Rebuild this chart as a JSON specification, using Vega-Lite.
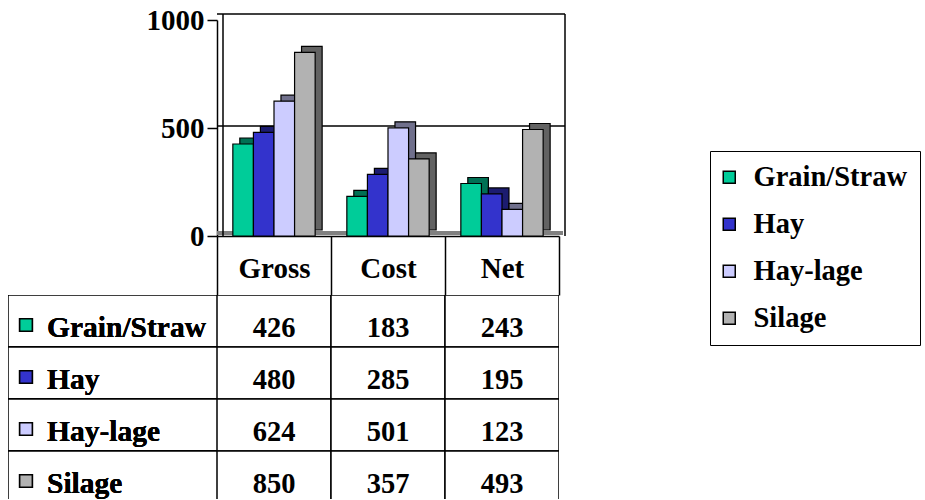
{
  "$schema": "https://vega.github.io/schema/vega-lite/v6.json",
  "padding": {"left": 8, "top": 6, "right": 0, "bottom": 0},
  "autosize": {"type": "pad"},
  "background": "white",
  "config": {
    "view": {"stroke": null},
    "font": "Liberation Serif",
    "text": {"font": "Liberation Serif", "fontWeight": "bold", "fontSize": 28, "color": "black"}
  },
  "data": {
    "values": [
      {"series": "Grain/Straw", "metric": "Gross", "value": 426},
      {"series": "Grain/Straw", "metric": "Cost", "value": 183},
      {"series": "Grain/Straw", "metric": "Net", "value": 243},
      {"series": "Hay", "metric": "Gross", "value": 480},
      {"series": "Hay", "metric": "Cost", "value": 285},
      {"series": "Hay", "metric": "Net", "value": 195},
      {"series": "Hay-lage", "metric": "Gross", "value": 624},
      {"series": "Hay-lage", "metric": "Cost", "value": 501},
      {"series": "Hay-lage", "metric": "Net", "value": 123},
      {"series": "Silage", "metric": "Gross", "value": 850},
      {"series": "Silage", "metric": "Cost", "value": 357},
      {"series": "Silage", "metric": "Net", "value": 493}
    ]
  },
  "columns": 2,
  "spacing": {"row": 59, "column": 0},
  "bounds": "flush",
  "align": "each",
  "resolve": {"scale": {"color": "independent"}, "legend": {"color": "independent"}},
  "concat": [
    {
      "width": 209,
      "height": 216,
      "mark": {"type": "text"},
      "encoding": {"text": {"value": ""}}
    },
    {
      "width": 342,
      "height": 216,
      "resolve": {"scale": {"xOffset": "independent"}},
      "layer": [
        {
          "transform": [{"filter": "datum.metric == 'Gross' && datum.series == 'Hay'"}],
          "mark": {"type": "rule", "color": "#808080", "strokeWidth": 4, "yOffset": -3, "xOffset": 4},
          "encoding": {"y": {"datum": 0, "type": "quantitative", "scale": {"domain": [0, 1000], "nice": false}}}
        },
        {
          "transform": [{"filter": "datum.metric == 'Gross' && datum.series == 'Hay'"}],
          "mark": {"type": "rule", "color": "black", "strokeWidth": 1.5, "yOffset": -2, "xOffset": 6},
          "encoding": {"y": {"datum": 500, "type": "quantitative"}}
        },
        {
          "transform": [{"filter": "datum.metric == 'Gross' && datum.series == 'Hay'"}],
          "mark": {"type": "rule", "color": "black", "strokeWidth": 1.5, "yOffset": -6, "xOffset": 6},
          "encoding": {"y": {"datum": 1000, "type": "quantitative"}}
        },
        {
          "transform": [{"filter": "datum.metric == 'Gross' && datum.series == 'Hay'"}],
          "mark": {"type": "rule", "color": "black", "strokeWidth": 1.5, "yOffset": -6, "y2Offset": -6, "xOffset": 6},
          "encoding": {
            "x": {"field": "metric", "type": "nominal", "sort": ["Gross", "Cost", "Net"], "bandPosition": 0}
          }
        },
        {
          "transform": [{"filter": "datum.metric == 'Net' && datum.series == 'Hay'"}],
          "mark": {"type": "rule", "color": "black", "strokeWidth": 1.5, "yOffset": -6, "y2Offset": -6, "xOffset": 6},
          "encoding": {
            "x": {"field": "metric", "type": "nominal", "sort": ["Gross", "Cost", "Net"], "bandPosition": 1}
          }
        },
        {
          "mark": {"type": "bar", "yOffset": -6, "y2Offset": -6, "stroke": "black", "strokeWidth": 1.2},
          "encoding": {
            "x": {"field": "metric", "type": "nominal", "sort": ["Gross", "Cost", "Net"]},
            "y": {"field": "value", "type": "quantitative"},
            "color": {"field": "series", "type": "nominal"},
            "xOffset": {
              "field": "series", "type": "nominal", "sort": ["Grain/Straw", "Hay", "Hay-lage", "Silage"],
              "scale": {"paddingInner": 0, "paddingOuter": 0.77, "align": 0.72}
            }
          }
        },
        {
          "mark": {"type": "bar", "yOffset": -6, "y2Offset": -6, "color": "black", "opacity": 0.45},
          "encoding": {
            "x": {"field": "metric", "type": "nominal", "sort": ["Gross", "Cost", "Net"]},
            "y": {"field": "value", "type": "quantitative"},
            "xOffset": {
              "field": "series", "type": "nominal", "sort": ["Grain/Straw", "Hay", "Hay-lage", "Silage"],
              "scale": {"paddingInner": 0, "paddingOuter": 0.77, "align": 0.72}
            }
          }
        },
        {
          "mark": {"type": "bar", "stroke": "black", "strokeWidth": 1.2},
          "encoding": {
            "x": {
              "field": "metric", "type": "nominal", "sort": ["Gross", "Cost", "Net"],
              "scale": {"paddingInner": 0, "paddingOuter": 0},
              "axis": {
                "title": null, "labelAngle": 0, "labelFont": "Liberation Serif", "labelFontWeight": "bold",
                "labelFontSize": 29, "labelColor": "black", "domainColor": "black", "domainWidth": 1.5,
                "tickColor": "black", "tickWidth": 1.5, "tickBand": "extent", "tickSize": 59,
                "bandPosition": 0.5, "labelAlign": "center",
                "labelBaseline": "alphabetic", "labelPadding": -18
              }
            },
            "y": {
              "field": "value", "type": "quantitative",
              "axis": {
                "title": null, "values": [0, 500, 1000], "format": "d", "grid": false, "domainColor": "black", "domainWidth": 1.5, "tickColor": "black",
                "tickWidth": 1.5, "tickSize": 10, "labelPadding": 3, "labelFontSize": 29,
                "labelFontWeight": "bold", "labelFont": "Liberation Serif", "labelColor": "black",
                "labelFlush": false, "labelOverlap": false
              }
            },
            "xOffset": {
              "field": "series", "type": "nominal", "sort": ["Grain/Straw", "Hay", "Hay-lage", "Silage"],
              "scale": {"paddingInner": 0, "paddingOuter": 0.77, "align": 0.5}
            },
            "color": {
              "field": "series", "type": "nominal",
              "scale": {"domain": ["Grain/Straw", "Hay", "Hay-lage", "Silage"], "range": ["#00CC99", "#3333CC", "#CCCCFF", "#B2B2B2"]},
              "legend": {
                "title": null, "orient": "none", "legendX": 493, "legendY": 131,
                "strokeColor": "black", "fillColor": "white", "padding": 12, "rowPadding": 18,
                "symbolType": "square", "symbolSize": 144, "symbolStrokeColor": "black", "symbolStrokeWidth": 1.5,
                "symbolOffset": -7,
                "labelFont": "Liberation Serif", "labelFontWeight": "bold", "labelFontSize": 28.5,
                "labelColor": "black", "labelOffset": 10, "labelLimit": 400
              }
            }
          }
        }
      ]
    },
    {
      "width": 209,
      "height": 204,
      "encoding": {
        "y": {
          "field": "series", "type": "nominal", "sort": ["Grain/Straw", "Hay", "Hay-lage", "Silage"],
          "scale": {"paddingInner": 0, "paddingOuter": 0, "range": [0, 208]},
          "axis": null
        }
      },
      "layer": [
        {
          "mark": {"type": "rect", "fill": "white", "stroke": "black", "strokeWidth": 1.5, "clip": true},
          "encoding": {
            "x": {"datum": 0, "type": "quantitative", "scale": {"domain": [0, 1]}, "axis": null},
            "x2": {"datum": 1}
          }
        },
        {
          "mark": {"type": "point", "shape": "square", "size": 160, "filled": true, "stroke": "black", "strokeWidth": 1.5, "opacity": 1, "xOffset": 18, "yOffset": 4, "clip": true},
          "encoding": {
            "x": {"datum": 0, "type": "quantitative"},
            "color": {
              "field": "series", "type": "nominal",
              "scale": {"domain": ["Grain/Straw", "Hay", "Hay-lage", "Silage"], "range": ["#00CC99", "#3333CC", "#CCCCFF", "#B2B2B2"]},
              "legend": null
            }
          }
        },
        {
          "mark": {"type": "text", "align": "left", "baseline": "alphabetic", "dx": 39, "dy": 16, "fontSize": 29.5, "clip": true},
          "encoding": {
            "x": {"datum": 0, "type": "quantitative"},
            "text": {"field": "series"}
          }
        }
      ]
    },
    {
      "width": 342,
      "height": 204,
      "encoding": {
        "x": {
          "field": "metric", "type": "nominal", "sort": ["Gross", "Cost", "Net"],
          "scale": {"paddingInner": 0, "paddingOuter": 0}, "axis": null
        },
        "y": {
          "field": "series", "type": "nominal", "sort": ["Grain/Straw", "Hay", "Hay-lage", "Silage"],
          "scale": {"paddingInner": 0, "paddingOuter": 0, "range": [0, 208]},
          "axis": null
        }
      },
      "layer": [
        {
          "mark": {"type": "rect", "fill": "white", "stroke": "black", "strokeWidth": 1.5, "clip": true}
        },
        {
          "mark": {"type": "text", "align": "center", "baseline": "alphabetic", "dy": 16, "fontSize": 28.5, "clip": true},
          "encoding": {"text": {"field": "value", "type": "quantitative"}}
        }
      ]
    }
  ]
}
